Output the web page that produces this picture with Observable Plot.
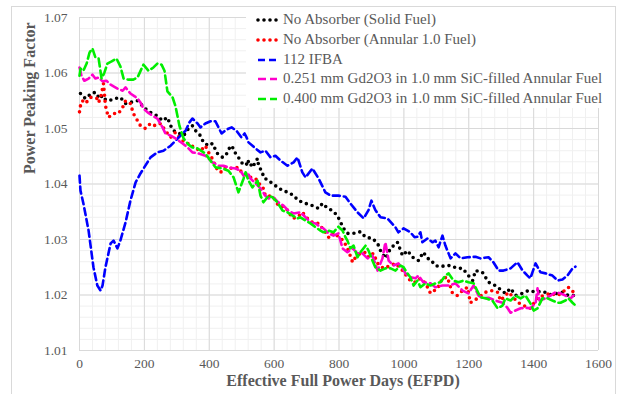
<!DOCTYPE html>
<html><head><meta charset="utf-8">
<script src="https://cdn.jsdelivr.net/npm/d3@7"></script>
<script src="https://cdn.jsdelivr.net/npm/@observablehq/plot@0.6"></script>
<style>
body{margin:0;background:#fff}
#wrap{position:relative;width:619px;height:394px;font-family:'Liberation Serif',serif}
#chart{position:absolute;left:0;top:0}
#chart svg, #chart svg text{font-family:'Liberation Serif',serif !important}
#border{position:absolute;left:11px;top:6px;width:605px;height:390px;border:1px solid #d9d9d9;box-sizing:border-box;pointer-events:none}
#legend{position:absolute;left:246px;top:9px;width:354px;height:99px;background:#fff}
.row{position:absolute;left:0;height:20px;width:354px}
.row svg{position:absolute;left:10px;top:0}
.row span{position:absolute;left:37px;top:0px;font-size:15px;line-height:19px;color:#595959;white-space:nowrap;font-family:'Liberation Serif',serif}
</style></head>
<body><div id="wrap"><div id="border"></div><div id="chart"></div><div id="legend"></div></div>
<script>
// [EFPD, power peaking factor]
const solidFuel = [[3,1.0563],[18,1.0554],[28,1.0559],[43,1.0565],[55,1.0563],[59,1.0554],[71,1.0559],[74,1.0554],[89,1.0550],[111,1.0554],[126,1.0556],[142,1.0545],[157,1.0547],[179,1.0550],[194,1.0541],[210,1.0532],[225,1.0527],[240,1.0523],[256,1.0514],[271,1.0520],[281,1.0505],[290,1.0496],[302,1.0493],[321,1.0487],[336,1.0500],[348,1.0505],[358,1.0496],[373,1.0487],[382,1.0475],[398,1.0469],[410,1.0473],[425,1.0455],[441,1.0448],[450,1.0451],[459,1.0460],[465,1.0469],[475,1.0464],[481,1.0455],[490,1.0448],[502,1.0437],[512,1.0439],[518,1.0433],[521,1.0442],[533,1.0430],[549,1.0446],[552,1.0433],[564,1.0421],[567,1.0412],[583,1.0406],[604,1.0397],[626,1.0388],[644,1.0385],[660,1.0379],[675,1.0370],[697,1.0365],[718,1.0361],[737,1.0356],[749,1.0365],[765,1.0356],[780,1.0352],[795,1.0343],[805,1.0331],[814,1.0320],[826,1.0311],[845,1.0311],[866,1.0314],[882,1.0304],[903,1.0302],[919,1.0293],[928,1.0280],[943,1.0266],[959,1.0284],[980,1.0295],[996,1.0271],[1011,1.0280],[1027,1.0268],[1045,1.0262],[1060,1.0277],[1073,1.0266],[1082,1.0264],[1097,1.0253],[1113,1.0251],[1128,1.0253],[1144,1.0253],[1165,1.0248],[1181,1.0248],[1199,1.0235],[1212,1.0226],[1221,1.0244],[1242,1.0241],[1261,1.0223],[1282,1.0217],[1313,1.0203],[1329,1.0212],[1344,1.0199],[1366,1.0203],[1384,1.0208],[1400,1.0206],[1430,1.0206],[1452,1.0201],[1474,1.0203],[1489,1.0205],[1507,1.0199],[1529,1.0199]];

const annularFuel = [[0,1.0530],[3,1.0541],[9,1.0550],[18,1.0545],[34,1.0556],[43,1.0556],[55,1.0554],[59,1.0547],[65,1.0556],[71,1.0572],[74,1.0581],[80,1.0541],[86,1.0527],[89,1.0520],[105,1.0527],[120,1.0527],[133,1.0538],[142,1.0550],[157,1.0545],[166,1.0527],[179,1.0514],[188,1.0505],[203,1.0500],[219,1.0509],[234,1.0505],[250,1.0509],[265,1.0496],[281,1.0484],[296,1.0493],[311,1.0482],[327,1.0473],[342,1.0473],[351,1.0466],[373,1.0460],[388,1.0469],[395,1.0460],[413,1.0442],[419,1.0430],[435,1.0421],[450,1.0430],[472,1.0428],[490,1.0430],[502,1.0419],[518,1.0415],[527,1.0412],[543,1.0410],[552,1.0401],[564,1.0397],[573,1.0379],[583,1.0379],[598,1.0376],[613,1.0361],[635,1.0358],[657,1.0338],[672,1.0340],[687,1.0349],[703,1.0338],[718,1.0331],[737,1.0329],[758,1.0313],[768,1.0304],[783,1.0313],[798,1.0305],[814,1.0298],[829,1.0280],[842,1.0259],[851,1.0268],[866,1.0275],[882,1.0277],[891,1.0268],[906,1.0275],[919,1.0257],[937,1.0248],[959,1.0253],[974,1.0257],[996,1.0244],[1011,1.0232],[1020,1.0226],[1036,1.0223],[1051,1.0230],[1067,1.0221],[1082,1.0203],[1104,1.0212],[1119,1.0230],[1134,1.0232],[1150,1.0203],[1165,1.0199],[1181,1.0208],[1196,1.0214],[1205,1.0186],[1227,1.0194],[1252,1.0205],[1273,1.0208],[1289,1.0205],[1298,1.0190],[1323,1.0205],[1338,1.0195],[1353,1.0186],[1369,1.0181],[1390,1.0176],[1412,1.0195],[1430,1.0199],[1452,1.0203],[1474,1.0199],[1489,1.0205],[1507,1.0214],[1523,1.0205],[1529,1.0203]];

const ifba112 = [[0,1.0415],[3,1.0388],[12,1.0365],[28,1.0316],[43,1.0250],[55,1.0217],[65,1.0208],[71,1.0217],[80,1.0250],[96,1.0293],[105,1.0298],[117,1.0284],[126,1.0298],[142,1.0331],[157,1.0370],[173,1.0403],[188,1.0419],[203,1.0433],[219,1.0448],[240,1.0457],[259,1.0460],[281,1.0469],[296,1.0478],[311,1.0487],[327,1.0496],[339,1.0511],[348,1.0518],[364,1.0509],[373,1.0502],[388,1.0509],[404,1.0513],[419,1.0513],[438,1.0491],[453,1.0498],[469,1.0502],[484,1.0496],[499,1.0484],[509,1.0491],[515,1.0484],[521,1.0475],[543,1.0464],[558,1.0457],[573,1.0460],[589,1.0448],[604,1.0451],[620,1.0442],[641,1.0433],[660,1.0439],[672,1.0448],[687,1.0421],[697,1.0412],[718,1.0428],[737,1.0410],[758,1.0385],[774,1.0379],[798,1.0379],[820,1.0377],[835,1.0365],[857,1.0349],[876,1.0338],[891,1.0353],[900,1.0370],[912,1.0353],[928,1.0340],[949,1.0338],[974,1.0322],[983,1.0313],[999,1.0320],[1020,1.0313],[1033,1.0304],[1042,1.0305],[1051,1.0313],[1057,1.0295],[1073,1.0302],[1088,1.0295],[1097,1.0298],[1107,1.0286],[1119,1.0307],[1128,1.0289],[1144,1.0266],[1159,1.0275],[1175,1.0266],[1196,1.0268],[1221,1.0269],[1236,1.0266],[1261,1.0268],[1276,1.0259],[1292,1.0244],[1307,1.0244],[1329,1.0248],[1350,1.0259],[1366,1.0244],[1381,1.0235],[1390,1.0230],[1406,1.0257],[1421,1.0241],[1437,1.0239],[1458,1.0235],[1474,1.0226],[1489,1.0228],[1504,1.0235],[1520,1.0248],[1529,1.0251]];

const gd251 = [[0,1.0610],[6,1.0595],[15,1.0586],[28,1.0590],[40,1.0597],[49,1.0590],[59,1.0592],[71,1.0585],[83,1.0586],[96,1.0579],[105,1.0576],[117,1.0572],[133,1.0568],[142,1.0574],[157,1.0563],[170,1.0558],[179,1.0554],[188,1.0547],[197,1.0536],[210,1.0529],[225,1.0523],[240,1.0518],[256,1.0502],[265,1.0491],[281,1.0487],[296,1.0482],[318,1.0473],[333,1.0466],[348,1.0457],[367,1.0455],[388,1.0451],[410,1.0439],[428,1.0433],[444,1.0433],[459,1.0430],[481,1.0428],[496,1.0424],[506,1.0415],[518,1.0421],[527,1.0410],[543,1.0401],[558,1.0392],[573,1.0379],[583,1.0374],[598,1.0376],[613,1.0367],[629,1.0361],[644,1.0352],[660,1.0347],[681,1.0349],[697,1.0340],[712,1.0331],[728,1.0329],[743,1.0322],[752,1.0320],[768,1.0311],[783,1.0307],[798,1.0311],[811,1.0284],[826,1.0277],[842,1.0284],[857,1.0275],[872,1.0275],[888,1.0266],[903,1.0271],[919,1.0244],[934,1.0266],[943,1.0295],[953,1.0262],[968,1.0253],[983,1.0257],[996,1.0248],[1005,1.0239],[1020,1.0232],[1036,1.0230],[1045,1.0235],[1060,1.0223],[1082,1.0221],[1097,1.0214],[1119,1.0217],[1138,1.0217],[1159,1.0221],[1181,1.0208],[1199,1.0203],[1215,1.0217],[1230,1.0199],[1245,1.0194],[1261,1.0195],[1282,1.0190],[1304,1.0186],[1319,1.0177],[1329,1.0168],[1344,1.0172],[1360,1.0176],[1375,1.0177],[1390,1.0176],[1406,1.0185],[1412,1.0212],[1418,1.0190],[1437,1.0194],[1452,1.0199],[1467,1.0205],[1483,1.0203],[1498,1.0199],[1514,1.0194],[1523,1.0199]];

const gd400 = [[0,1.0595],[3,1.0608],[12,1.0604],[22,1.0617],[31,1.0637],[40,1.0644],[49,1.0628],[59,1.0626],[68,1.0590],[77,1.0601],[86,1.0617],[99,1.0621],[114,1.0626],[126,1.0612],[136,1.0590],[151,1.0588],[166,1.0588],[179,1.0592],[197,1.0615],[213,1.0604],[228,1.0610],[240,1.0617],[253,1.0615],[262,1.0604],[271,1.0567],[287,1.0556],[296,1.0540],[308,1.0505],[321,1.0482],[336,1.0471],[348,1.0466],[364,1.0464],[388,1.0455],[404,1.0442],[419,1.0430],[441,1.0428],[459,1.0424],[475,1.0412],[490,1.0385],[506,1.0410],[512,1.0421],[521,1.0406],[533,1.0394],[549,1.0406],[558,1.0379],[567,1.0367],[583,1.0379],[595,1.0376],[610,1.0367],[626,1.0352],[641,1.0349],[657,1.0343],[672,1.0338],[681,1.0340],[697,1.0334],[712,1.0329],[728,1.0322],[743,1.0316],[752,1.0313],[768,1.0316],[783,1.0313],[798,1.0323],[811,1.0316],[820,1.0304],[826,1.0298],[835,1.0284],[845,1.0289],[857,1.0268],[866,1.0277],[882,1.0289],[891,1.0280],[903,1.0262],[912,1.0250],[928,1.0244],[943,1.0248],[959,1.0248],[974,1.0244],[990,1.0253],[999,1.0250],[1011,1.0239],[1020,1.0232],[1030,1.0217],[1042,1.0226],[1051,1.0214],[1067,1.0221],[1082,1.0217],[1097,1.0221],[1113,1.0223],[1128,1.0235],[1138,1.0239],[1153,1.0226],[1168,1.0223],[1184,1.0226],[1199,1.0223],[1215,1.0221],[1236,1.0196],[1252,1.0194],[1273,1.0190],[1289,1.0176],[1304,1.0181],[1313,1.0194],[1329,1.0190],[1344,1.0199],[1360,1.0194],[1375,1.0199],[1390,1.0185],[1400,1.0172],[1412,1.0176],[1427,1.0194],[1443,1.0194],[1458,1.0190],[1474,1.0186],[1483,1.0186],[1498,1.0190],[1507,1.0194],[1520,1.0186],[1529,1.0181]];

const seriesNames = ["No Absorber (Solid Fuel)","No Absorber (Annular 1.0 Fuel)","112 IFBA","0.251 mm Gd2O3 in 1.0 mm SiC-filled Annular Fuel","0.400 mm Gd2O3 in 1.0 mm SiC-filled Annular Fuel"];
const seriesData = [solidFuel, annularFuel, ifba112, gd251, gd400];
const seriesColors = ["#000000","#ff0000","#0000ff","#ff00cc","#00ee00"];
const xTicks = [0,200,400,600,800,1000,1200,1400,1600];
const yTicks = [1.01,1.02,1.03,1.04,1.05,1.06,1.07];
const xTitle = "Effective Full Power Days (EFPD)";
const yTitle = "Power Peaking Factor";

const styles = [
  {strokeWidth:3.6, strokeDasharray:"0 6", strokeLinecap:"round"},
  {strokeWidth:3.6, strokeDasharray:"0 6", strokeLinecap:"round"},
  {strokeWidth:2.6, strokeDasharray:"7 4"},
  {strokeWidth:2.6, strokeDasharray:"8 4"},
  {strokeWidth:2.6, strokeDasharray:"8 4"}
];

const xMinor = d3.range(0, 1601, 40);
const yMinor = d3.range(0, 31).map(i => 1.01 + i * 0.002);

const chart = Plot.plot({
  width: 619, height: 394,
  marginLeft: 79, marginRight: 21, marginTop: 17, marginBottom: 44,
  x: {domain: [0, 1600], ticks: xTicks, tickFormat: d => String(d), tickSize: 0, tickPadding: 8, label: null},
  y: {domain: [1.01, 1.07], ticks: yTicks, tickFormat: d => d.toFixed(2), tickSize: 0, tickPadding: 12, label: null},
  style: {fontFamily: "Liberation Serif, serif", fontSize: "13.5px", color: "#595959", background: "transparent"},
  marks: [
    Plot.ruleX(xMinor, {stroke: "#f0f0f0"}),
    Plot.ruleY(yMinor, {stroke: "#f0f0f0"}),
    Plot.ruleX(xTicks, {stroke: "#d9d9d9"}),
    Plot.ruleY(yTicks, {stroke: "#d9d9d9"}),
    ...seriesData.map((s, i) => Plot.line(s, {x: d => d[0], y: d => d[1], stroke: seriesColors[i], ...styles[i]})),
    Plot.text([xTitle], {frameAnchor: "bottom", dy: 35, dx: 4, text: d => d, fontWeight: "bold", fontSize: 16, fill: "#595959"}),
    Plot.text([yTitle], {frameAnchor: "left", dx: -50, dy: -10, rotate: -90, text: d => d, fontWeight: "bold", fontSize: 16, fill: "#595959"})
  ]
});
document.getElementById("chart").appendChild(chart);

const legend = document.getElementById("legend");
const tops = [1, 21, 41, 60, 80];
seriesNames.forEach((name, i) => {
  const row = document.createElement("div");
  row.className = "row";
  row.style.top = tops[i] + "px";
  const st = styles[i];
  row.innerHTML = `<svg width="24" height="20"><line x1="2" x2="21" y1="10" y2="10" stroke="${seriesColors[i]}" stroke-width="${st.strokeWidth}" stroke-dasharray="${st.strokeDasharray}" stroke-linecap="${st.strokeLinecap || 'butt'}"/></svg><span></span>`;
  row.querySelector("span").textContent = name;
  legend.appendChild(row);
});
</script>
</body></html>
